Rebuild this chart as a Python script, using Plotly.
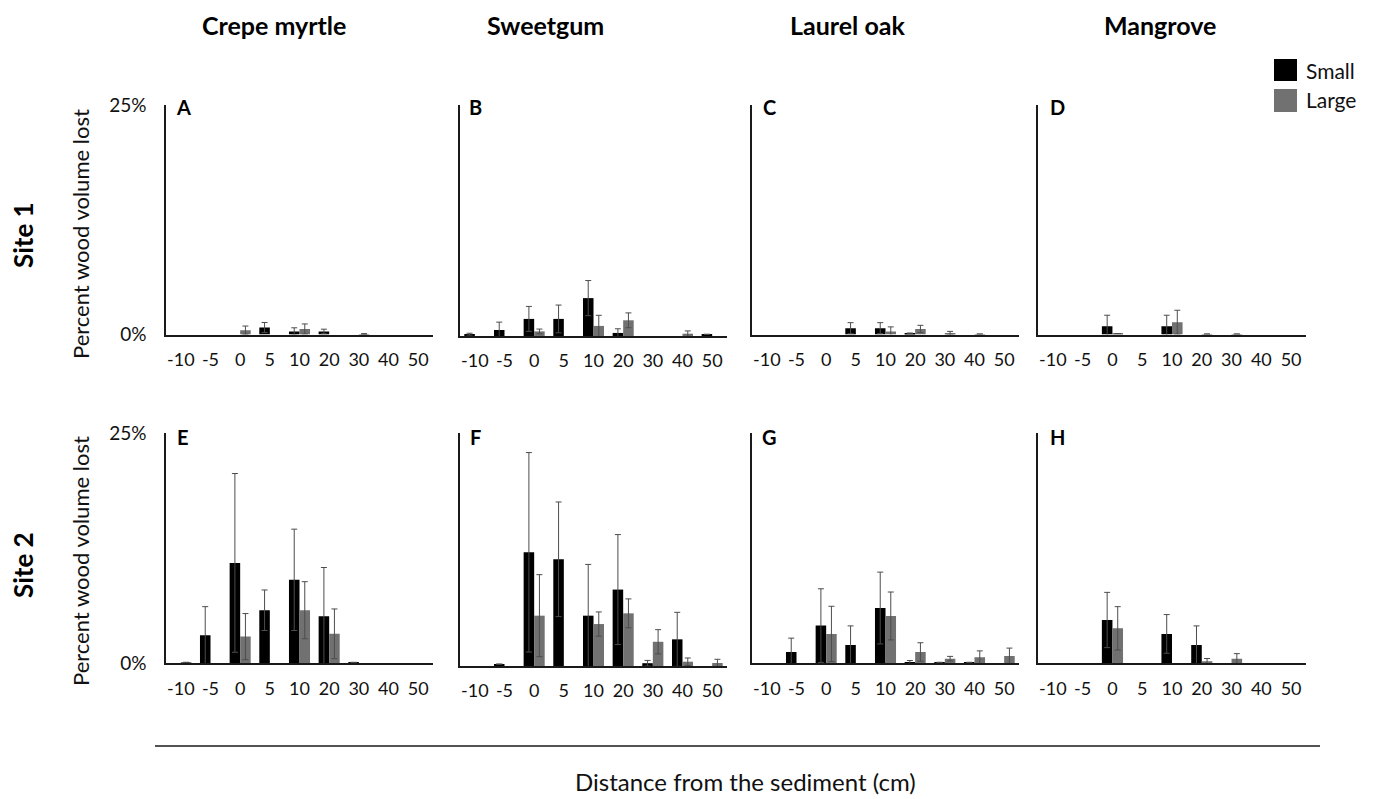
import plotly.graph_objects as go

W, H = 1375, 799

distances = ["-10", "-5", "0", "5", "10", "20", "30", "40", "50"]
species = ["Crepe myrtle", "Sweetgum", "Laurel oak", "Mangrove"]
sites = ["Site 1", "Site 2"]
panel_letters = ["A", "B", "C", "D", "E", "F", "G", "H"]
series_names = ["Small", "Large"]
y_tick_vals = [0, 25]
y_tick_text = ["0%", "25%"]

# Site 1
small_A = [0, 0, 0, 0.76, 0.33, 0.33, 0, 0, 0]
small_A_err = [0, 0, 0, 0.55, 0.4, 0.25, 0, 0, 0]
large_A = [0, 0, 0.47, 0, 0.6, 0, 0.05, 0, 0]
large_A_err = [0, 0, 0.45, 0, 0.55, 0, 0.05, 0, 0]

small_B = [0.2, 0.65, 1.85, 1.85, 4.1, 0.33, 0, 0, 0.18]
small_B_err = [0.1, 0.85, 1.35, 1.5, 1.9, 0.45, 0, 0, 0]
large_B = [0, 0, 0.5, 0, 1.09, 1.7, 0, 0.25, 0]
large_B_err = [0, 0, 0.25, 0, 1.15, 0.8, 0, 0.3, 0]

small_C = [0, 0, 0, 0.69, 0.69, 0.14, 0, 0, 0]
small_C_err = [0, 0, 0, 0.6, 0.6, 0, 0, 0, 0]
large_C = [0, 0, 0, 0, 0.33, 0.6, 0.14, 0.05, 0]
large_C_err = [0, 0, 0, 0, 0.5, 0.4, 0.2, 0, 0]

small_D = [0, 0, 0.9, 0, 0.9, 0, 0, 0, 0]
small_D_err = [0, 0, 1.2, 0, 1.2, 0, 0, 0, 0]
large_D = [0, 0, 0.1, 0, 1.34, 0.05, 0.05, 0, 0]
large_D_err = [0, 0, 0, 0, 1.3, 0, 0, 0, 0]

# Site 2
small_E = [0, 3.05, 10.9, 5.76, 9.06, 5.1, 0.1, 0, 0]
small_E_err = [0, 3.1, 9.7, 2.2, 5.5, 5.3, 0, 0, 0]
large_E = [0.1, 0, 2.9, 0, 5.76, 3.2, 0, 0, 0]
large_E_err = [0, 0, 2.5, 0, 3.1, 2.7, 0, 0, 0]

small_F = [0, 0.2, 12.2, 11.45, 5.4, 8.2, 0.3, 2.86, 0]
small_F_err = [0, 0, 10.7, 6.15, 5.5, 5.9, 0.3, 2.9, 0]
large_F = [0, 0, 5.4, 0, 4.5, 5.65, 2.6, 0.46, 0.32]
large_F_err = [0, 0, 4.4, 0, 1.3, 1.55, 1.3, 0.4, 0.4]

small_G = [0, 1.23, 4.09, 2.0, 6.0, 0.1, 0.1, 0.1, 0]
small_G_err = [0, 1.5, 4.0, 2.06, 3.9, 0.2, 0, 0, 0]
large_G = [0, 0, 3.19, 0, 5.14, 1.23, 0.5, 0.65, 0.8]
large_G_err = [0, 0, 3.0, 0, 2.6, 1.0, 0.25, 0.7, 0.85]

small_H = [0, 0, 4.7, 0, 3.19, 2.0, 0, 0, 0]
small_H_err = [0, 0, 3.0, 0, 2.1, 2.06, 0, 0, 0]
large_H = [0, 0, 3.8, 0, 0, 0.22, 0.5, 0, 0]
large_H_err = [0, 0, 2.35, 0, 0, 0.3, 0.55, 0, 0]

panels = [
    (small_A, small_A_err, large_A, large_A_err),
    (small_B, small_B_err, large_B, large_B_err),
    (small_C, small_C_err, large_C, large_C_err),
    (small_D, small_D_err, large_D, large_D_err),
    (small_E, small_E_err, large_E, large_E_err),
    (small_F, small_F_err, large_F, large_F_err),
    (small_G, small_G_err, large_G, large_G_err),
    (small_H, small_H_err, large_H, large_H_err),
]

# layout geometry (pixels)
col_px = [(166, 433), (460, 727), (752, 1019), (1038, 1306)]
row_top_px = [105, 433]
base_px = [[334.5, 336, 334.5, 334.5], [663.3, 666, 663.3, 663.3]]

FONT = "Lato, 'Open Sans', sans-serif"
SMALL_C = "#000000"
LARGE_C = "#717171"
ERR_C = "#4d4d4d"


def px_x(p):
    return p / W


def px_y(p):
    return 1 - p / H


def clean_vals(v):
    return [x if x and x > 0 else None for x in v]


def clean_err(e):
    return [x if x and x > 0 else 0 for x in e]


fig = go.Figure()
layout = {}
for i, (s, se, l, le) in enumerate(panels):
    r, c = divmod(i, 4)
    k = "" if i == 0 else str(i + 1)
    xa, ya = "x" + k, "y" + k
    for vals, errs, col, name in ((s, se, SMALL_C, "Small"), (l, le, LARGE_C, "Large")):
        fig.add_trace(go.Bar(
            x=distances, y=clean_vals(vals), name=name,
            marker=dict(color=col, line=dict(width=0)),
            error_y=dict(type="data", array=clean_err(errs), visible=True, color=ERR_C,
                         thickness=1, width=3),
            xaxis=xa, yaxis=ya, showlegend=False, offsetgroup=name,
        ))
    x0, x1 = col_px[c]
    layout["xaxis" + k] = dict(
        domain=[px_x(x0), px_x(x1)], anchor=ya, type="category",
        categoryorder="array", categoryarray=distances,
        showline=True, linecolor="#1a1a1a", linewidth=1.5,
        ticks="outside", ticklen=8, tickcolor="rgba(0,0,0,0)",
        tickfont=dict(family=FONT, size=18, color="#111111"),
        showgrid=False, zeroline=False, fixedrange=True, automargin=False,
    )
    layout["yaxis" + k] = dict(
        domain=[px_y(base_px[r][c]), px_y(row_top_px[r])], anchor=xa,
        range=[0, 25], showline=True, linecolor="#1a1a1a", linewidth=1.5,
        tickvals=y_tick_vals, ticktext=y_tick_text, showticklabels=(c == 0),
        ticks="outside", ticklen=14, tickcolor="rgba(0,0,0,0)",
        tickfont=dict(family=FONT, size=19, color="#111111"),
        showgrid=False, zeroline=False, fixedrange=True, automargin=False,
    )


def note(xp, yp, text, size, angle=0, xanchor="center", color="#111"):
    return dict(x=px_x(xp), y=px_y(yp), text=text, showarrow=False, textangle=angle,
                xanchor=xanchor, yanchor="middle", xref="paper", yref="paper",
                font=dict(family=FONT, size=size, color=color))


ann = []
title_x = [274, 545, 848, 1160]
for name, xp in zip(species, title_x):
    ann.append(note(xp, 25, "<b>%s</b>" % name, 25, color="#000"))
for name, yp in zip(sites, [235, 565]):
    ann.append(note(23, yp, "<b>%s</b>" % name, 26, angle=-90, color="#000"))
for yp in [234, 561]:
    ann.append(note(80, yp, "Percent wood volume lost", 22, angle=-90))
letter_x = [183, 475, 769, 1057]
for i, letter in enumerate(panel_letters):
    r, c = divmod(i, 4)
    ann.append(note(letter_x[c], 107 if r == 0 else 437, "<b>%s</b>" % letter, 20, color="#000"))
for name, yp in zip(series_names, [70, 100]):
    ann.append(note(1304, yp, name, 21, xanchor="left"))
ann.append(note(745, 781, "Distance from the sediment (cm)", 24))

shapes = [
    dict(type="rect", xref="paper", yref="paper", x0=px_x(1274), x1=px_x(1297),
         y0=px_y(81), y1=px_y(59), fillcolor=SMALL_C, line=dict(width=0)),
    dict(type="rect", xref="paper", yref="paper", x0=px_x(1274), x1=px_x(1297),
         y0=px_y(112), y1=px_y(89), fillcolor=LARGE_C, line=dict(width=0)),
    dict(type="line", xref="paper", yref="paper", x0=px_x(155), x1=px_x(1320),
         y0=px_y(746), y1=px_y(746), line=dict(color="#1a1a1a", width=1.3)),
]

fig.update_layout(
    width=W, height=H, margin=dict(l=0, r=0, t=0, b=0, pad=0, autoexpand=False),
    paper_bgcolor="white", plot_bgcolor="white",
    barmode="group", bargap=0.29, bargroupgap=0,
    annotations=ann, shapes=shapes, showlegend=False,
    font=dict(family=FONT),
    **layout,
)

fig.write_html("out.html")
